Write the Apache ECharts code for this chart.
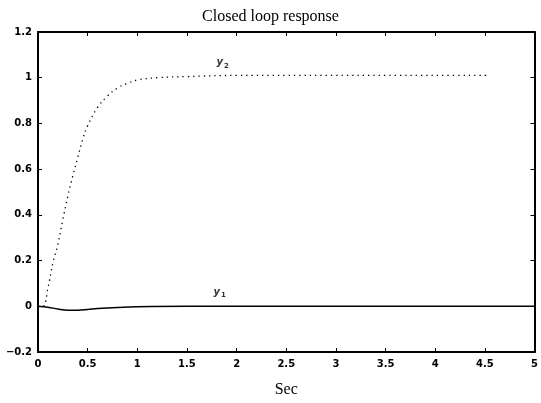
<!DOCTYPE html>
<html><head><meta charset="utf-8">
<script src="https://cdn.jsdelivr.net/npm/echarts@6/dist/echarts.min.js"></script>
<style>html,body{margin:0;padding:0;background:#fff}#c{width:541px;height:403px}</style>
</head><body><div id="c"></div>
<script>
var t2 = [0, 0.05, 0.1, 0.15, 0.2, 0.25, 0.3, 0.35, 0.4, 0.45, 0.5, 0.6, 0.7, 0.8, 0.9, 1.0, 1.2, 1.5, 2.0, 2.5, 3.0, 3.5, 4.0, 4.55];
var y2 = [0, 0.0, 0.08, 0.19, 0.27, 0.38, 0.48, 0.57, 0.65, 0.73, 0.79, 0.87, 0.92, 0.955, 0.975, 0.99, 1.0, 1.005, 1.01, 1.01, 1.01, 1.01, 1.01, 1.01];
var t1 = [0, 0.1, 0.2, 0.3, 0.4, 0.5, 0.6, 0.8, 1.0, 1.5, 2, 3, 4, 5];
var y1 = [0, -0.004, -0.012, -0.017, -0.017, -0.014, -0.01, -0.005, -0.002, 0, 0, 0, 0, 0];
var xTicks = ['0','0.5','1','1.5','2','2.5','3','3.5','4','4.5','5'];
var seriesLabels = [{name:'y', sub:'2', x:1.86, y:1.065}, {name:'y', sub:'1', x:1.83, y:0.06}];

var chart = echarts.init(document.getElementById('c'));
var tickFont = {fontFamily:'DejaVu Sans', fontWeight:'bold', fontSize:10, color:'#000'};
function axLine(){ return {onZero:false, lineStyle:{color:'#000', width:2}}; }
function axTick(){ return {inside:true, length:4, lineStyle:{color:'#000'}}; }
chart.setOption({
  animation:false,
  backgroundColor:'#fff',
  title:{text:'Closed loop response', left:'center', top:4,
    textStyle:{fontFamily:'Liberation Serif', fontWeight:'normal', fontSize:16, color:'#000'}},
  grid:{left:38, right:5, top:32, bottom:50},
  xAxis:[{type:'value', min:0, max:5, interval:0.5, name:'Sec', nameLocation:'middle', nameGap:30,
    nameTextStyle:{fontFamily:'Liberation Serif', fontSize:16, color:'#000'},
    axisLine:axLine(), axisTick:axTick(),
    axisLabel:Object.assign({margin:7, formatter:function(v){return xTicks[Math.round(v/0.5)];}}, tickFont), splitLine:{show:false}},
    {type:'value', position:'top', min:0, max:5, interval:0.5,
    axisLine:axLine(), axisTick:axTick(), axisLabel:{show:false}, splitLine:{show:false}}],
  yAxis:[{type:'value', min:-0.2, max:1.2, interval:0.2,
    axisLine:axLine(), axisTick:axTick(),
    axisLabel:Object.assign({margin:6, formatter:function(v){var s=String(+v.toFixed(1)); return s.replace('-','\u2212');}}, tickFont), splitLine:{show:false}},
    {type:'value', position:'right', min:-0.2, max:1.2, interval:0.2,
    axisLine:axLine(), axisTick:axTick(), axisLabel:{show:false}, splitLine:{show:false}}],
  series:[
    {type:'line', name:'y2', data:t2.map(function(t,i){return [t,y2[i]];}), smooth:0.4, showSymbol:false,
      lineStyle:{color:'#000', width:1.3, type:[1.3,4]}},
    {type:'line', name:'y1', data:t1.map(function(t,i){return [t,y1[i]];}), smooth:0.4, showSymbol:false,
      lineStyle:{color:'#000', width:1.5}},
    {type:'scatter', symbolSize:0, data:seriesLabels.map(function(d){return {value:[d.x,d.y], sub:d.sub};}),
      label:{show:true, position:'inside', formatter:function(p){return '{a|y}{b|'+p.data.sub+'}';},
        rich:{a:{fontFamily:'DejaVu Sans', fontWeight:'bold', fontStyle:'italic', fontSize:10, color:'#000'},
              b:{fontFamily:'DejaVu Sans', fontWeight:'bold', fontSize:7, color:'#000', padding:[6,0,0,1]}}}}
  ]
});
</script></body></html>
